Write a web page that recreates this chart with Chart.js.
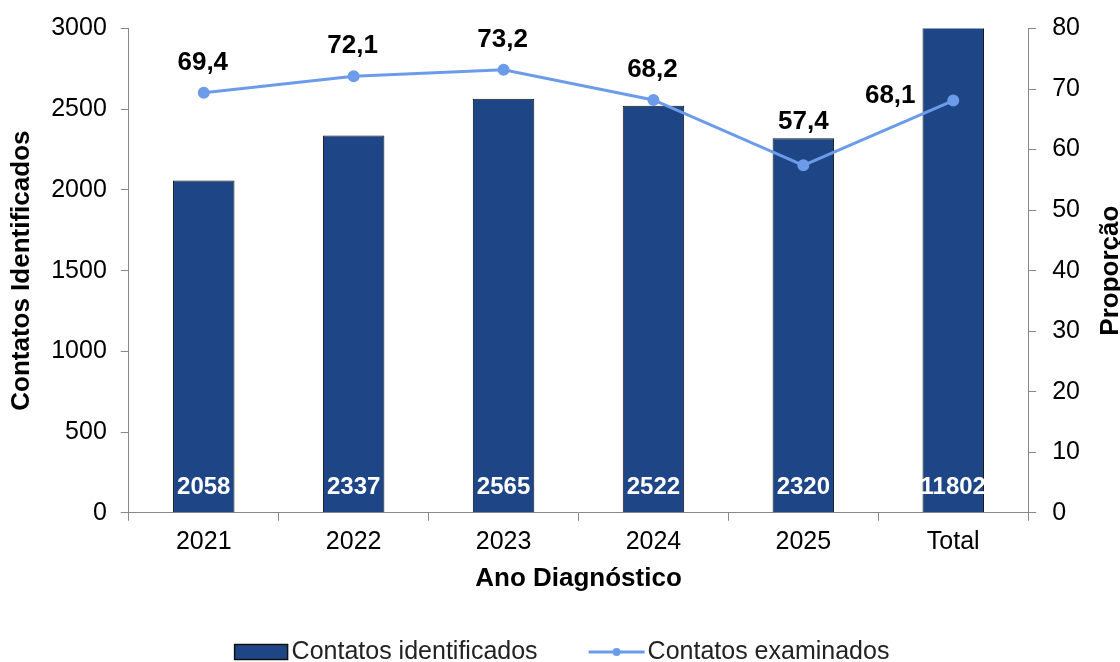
<!DOCTYPE html>
<html lang="pt">
<head>
  <meta charset="UTF-8">
  <title>Contatos</title>
  <script src="https://cdn.jsdelivr.net/npm/chart.js"></script>
  <style>
    body { margin: 0; background: #fff; }
    #wrap { width: 1120px; height: 662px; }
  </style>
</head>
<body>
  <div id="wrap"><canvas id="chart" width="1120" height="662"></canvas></div>

  <script>
    const anos = ['2021', '2022', '2023', '2024', '2025', 'Total'];
    const identificados = [2058, 2337, 2565, 2522, 2320, 11802];
    const examinados = [69.4, 72.1, 73.2, 68.2, 57.4, 68.1];

    const AZUL = '#1E4586';
    const LINHA = '#6C9CE9';
    const FONTE = 'Arial, "Liberation Sans", sans-serif';

    const rotulos = {
      id: 'rotulos',
      afterDatasetsDraw(chart) {
        const ctx = chart.ctx;
        ctx.save();
        ctx.textAlign = 'center';
        ctx.textBaseline = 'middle';

        // valores das barras (brancos, na base)
        ctx.font = 'bold 24px ' + FONTE;
        ctx.fillStyle = '#fff';
        chart.getDatasetMeta(0).data.forEach((bar, i) => {
          ctx.fillText(String(identificados[i]), bar.x, chart.scales.y.bottom - 25);
        });

        // valores da linha
        ctx.font = 'bold 26px ' + FONTE;
        ctx.fillStyle = '#000';
        chart.getDatasetMeta(1).data.forEach((pt, i) => {
          const txt = examinados[i].toFixed(1).replace('.', ',');
          if (i === examinados.length - 1) {
            ctx.fillText(txt, pt.x - 63, pt.y - 5);
          } else if (i === 4) {
            ctx.fillText(txt, pt.x, pt.y - 43);
          } else {
            ctx.fillText(txt, pt.x - 1, pt.y - 30);
          }
        });
        ctx.restore();
      },
      afterDraw(chart) {
        const ctx = chart.ctx;
        const area = chart.chartArea;
        ctx.save();

        // titulo do eixo direito (cortado na borda, como no original)
        ctx.font = 'bold 26px ' + FONTE;
        ctx.fillStyle = '#000';
        ctx.textAlign = 'center';
        ctx.textBaseline = 'alphabetic';
        ctx.translate(1118, (area.top + area.bottom) / 2);
        ctx.rotate(-Math.PI / 2);
        ctx.fillText('Proporção', 0, 0);
        ctx.setTransform(1, 0, 0, 1, 0, 0);

        // legenda
        ctx.font = '25px ' + FONTE;
        ctx.textAlign = 'left';
        ctx.textBaseline = 'middle';
        const l1 = chart.data.datasets[0].label;
        const l2 = chart.data.datasets[1].label;
        const w1 = ctx.measureText(l1).width;
        const w2 = ctx.measureText(l2).width;
        const total = 53 + 4 + w1 + 51 + 56 + 3 + w2;
        let x = 562 - total / 2;
        const y = 652;

        ctx.fillStyle = AZUL;
        ctx.fillRect(x, y - 7.5, 53, 15);
        ctx.strokeStyle = '#111';
        ctx.lineWidth = 1.5;
        ctx.strokeRect(x, y - 7.5, 53, 15);
        x += 57;
        ctx.fillStyle = '#222';
        ctx.fillText(l1, x, y);
        x += w1 + 51;

        ctx.strokeStyle = LINHA;
        ctx.lineWidth = 3;
        ctx.beginPath(); ctx.moveTo(x, y); ctx.lineTo(x + 56, y); ctx.stroke();
        ctx.fillStyle = LINHA;
        ctx.beginPath(); ctx.arc(x + 28, y, 4, 0, Math.PI * 2); ctx.fill();
        x += 59;
        ctx.fillStyle = '#222';
        ctx.fillText(l2, x, y);
        ctx.restore();
      }
    };

    const fmt = v => String(v);

    new Chart(document.getElementById('chart'), {
      type: 'bar',
      data: {
        labels: anos,
        datasets: [
          {
            label: 'Contatos identificados',
            data: identificados,
            backgroundColor: AZUL,
            borderColor: '#111',
            borderWidth: 1,
            barPercentage: 0.82,
            categoryPercentage: 0.5,
            yAxisID: 'y',
            order: 2
          },
          {
            type: 'line',
            label: 'Contatos examinados',
            data: examinados,
            borderColor: LINHA,
            backgroundColor: LINHA,
            borderWidth: 3,
            pointRadius: 4.5,
            pointHoverRadius: 4.5,
            tension: 0,
            yAxisID: 'y1',
            order: 1
          }
        ]
      },
      options: {
        responsive: false,
        animation: false,
        layout: { padding: { top: 16, left: 6, right: 24, bottom: 68 } },
        plugins: {
          tooltip: { enabled: false },
          legend: { display: false }
        },
        scales: {
          x: {
            grid: { drawOnChartArea: false, color: '#888', tickLength: 8 },
            border: { color: '#888' },
            ticks: { color: '#000', font: { family: FONTE, size: 25 }, padding: 6 },
            title: {
              display: true, text: 'Ano Diagnóstico', color: '#000',
              font: { family: FONTE, size: 26, weight: 'bold' },
              padding: { top: 0, bottom: 0 }
            }
          },
          y: {
            position: 'left',
            min: 0, max: 3000,
            ticks: { stepSize: 500, color: '#000', font: { family: FONTE, size: 25, lineHeight: 1 }, padding: 14, callback: fmt },
            grid: { drawOnChartArea: false, color: '#888', tickLength: 8 },
            border: { color: '#888' },
            title: {
              display: true, text: 'Contatos Identificados', color: '#000',
              font: { family: FONTE, size: 26, weight: 'bold' },
              padding: { top: 0, bottom: 0 }
            }
          },
          y1: {
            position: 'right',
            min: 0, max: 80,
            ticks: { stepSize: 10, color: '#000', font: { family: FONTE, size: 25, lineHeight: 1 }, padding: 16, callback: fmt },
            grid: { drawOnChartArea: false, color: '#888', tickLength: 8 },
            border: { color: '#888' }
          }
        }
      },
      plugins: [rotulos]
    });
  </script>
</body>
</html>
